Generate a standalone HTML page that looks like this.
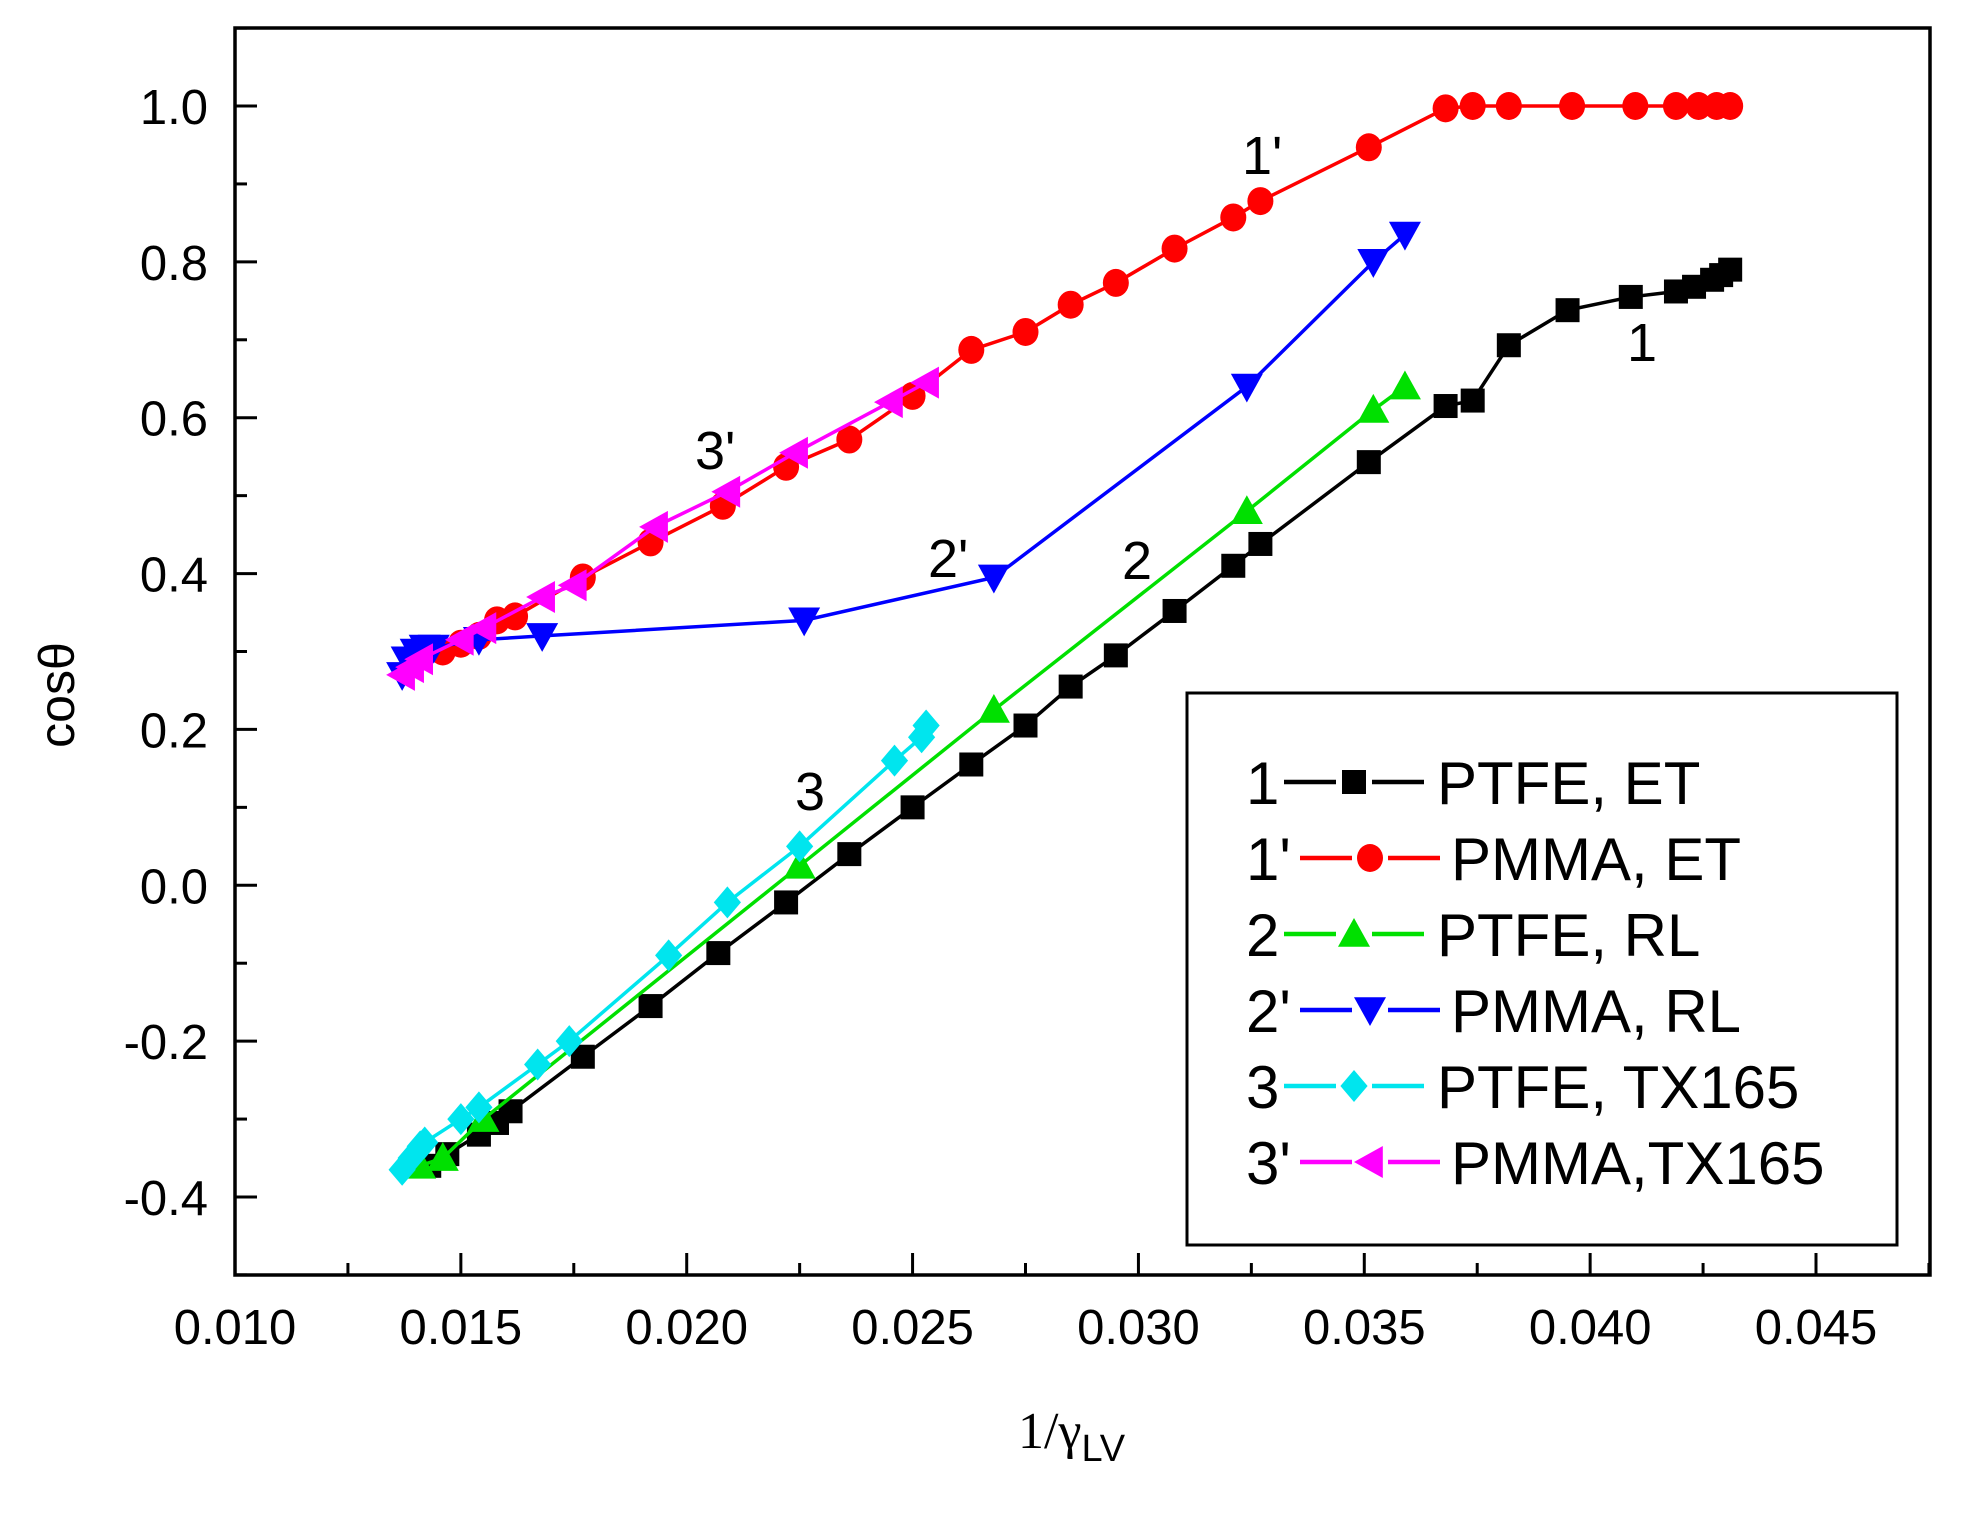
<!DOCTYPE html>
<html><head><meta charset="utf-8"><style>
html,body{margin:0;padding:0;background:#fff}
svg{display:block}
text{font-family:"Liberation Sans",Arial,sans-serif}
</style></head><body>
<svg id="chart" width="1970" height="1513" viewBox="0 0 1970 1513" xmlns="http://www.w3.org/2000/svg">
<g id="axes"></g>
<g id="series"></g>
<g id="labels"></g>
<g id="legend"></g>
<text transform="translate(74,695) rotate(-90)" text-anchor="middle" font-size="50">cosθ</text>
<text x="1018" y="1448" font-size="52" style="font-family:'Liberation Serif',serif">1/γ<tspan font-size="38" dy="13" style="font-family:'Liberation Sans',sans-serif">LV</tspan></text>
</svg>
<script>
const xTicks=[0.010,0.015,0.020,0.025,0.030,0.035,0.040,0.045];
const xTickLabels=["0.010","0.015","0.020","0.025","0.030","0.035","0.040","0.045"];
const yTicks=[-0.4,-0.2,0.0,0.2,0.4,0.6,0.8,1.0];
const yTickLabels=["-0.4","-0.2","0.0","0.2","0.4","0.6","0.8","1.0"];
const s1x=[0.0143,0.0147,0.0154,0.0158,0.0161,0.0177,0.0192,0.0207,0.0222,0.0236,0.0250,0.0263,0.0275,0.0285,0.0295,0.0308,0.0321,0.0327,0.0351,0.0368,0.0374,0.0382,0.0395,0.0409,0.0419,0.0423,0.0427,0.0429,0.0431];
const s1y=[-0.36,-0.345,-0.32,-0.305,-0.29,-0.22,-0.155,-0.087,-0.022,0.04,0.10,0.155,0.205,0.255,0.295,0.352,0.41,0.438,0.543,0.615,0.622,0.693,0.738,0.755,0.762,0.768,0.777,0.783,0.79];
const s1px=[0.0146,0.0150,0.0154,0.0158,0.0162,0.0177,0.0192,0.0208,0.0222,0.0236,0.0250,0.0263,0.0275,0.0285,0.0295,0.0308,0.0321,0.0327,0.0351,0.0368,0.0374,0.0382,0.0396,0.0410,0.0419,0.0424,0.0428,0.0431];
const s1py=[0.30,0.31,0.32,0.34,0.345,0.395,0.44,0.487,0.537,0.572,0.628,0.687,0.71,0.745,0.773,0.817,0.857,0.878,0.947,0.997,1.0,1.0,1.0,1.0,1.0,1.0,1.0,1.0];
const s2x=[0.0141,0.0146,0.0155,0.0225,0.0268,0.0324,0.0352,0.0359];
const s2y=[-0.36,-0.35,-0.30,0.025,0.225,0.48,0.61,0.64];
const s2px=[0.0137,0.0138,0.0140,0.0142,0.0144,0.0154,0.0168,0.0226,0.0268,0.0324,0.0352,0.0359];
const s2py=[0.27,0.29,0.30,0.305,0.305,0.315,0.32,0.34,0.395,0.64,0.80,0.835];
const s3x=[0.0137,0.0139,0.0141,0.0142,0.0150,0.0154,0.0167,0.0174,0.0196,0.0209,0.0225,0.0246,0.0252,0.0253];
const s3y=[-0.365,-0.35,-0.335,-0.33,-0.30,-0.285,-0.23,-0.20,-0.09,-0.022,0.05,0.16,0.19,0.205];
const s3px=[0.0137,0.0139,0.0141,0.0150,0.0155,0.0168,0.0175,0.0193,0.0209,0.0224,0.0245,0.0253];
const s3py=[0.27,0.28,0.29,0.315,0.33,0.37,0.385,0.46,0.505,0.555,0.62,0.645];

const NS="http://www.w3.org/2000/svg";
const L=235,R=1930,T=28,B=1275;
function xs(v){return 235+(v-0.010)*(1816-235)/0.035;}
function ys(v){return 106+(1.0-v)*(1197-106)/1.4;}
function mk(tag,attrs,parent){const e=document.createElementNS(NS,tag);for(const k in attrs)e.setAttribute(k,attrs[k]);parent.appendChild(e);return e;}

const ax=document.getElementById('axes');
const frame=mk('rect',{x:L,y:T,width:R-L,height:B-T,fill:'none',stroke:'#000','stroke-width':3.5},ax);


for(let i=0;i<xTicks.length;i++){
  const x=xs(xTicks[i]);
  const t=mk('line',{x1:x,y1:B,x2:x,y2:B-22,stroke:'#000','stroke-width':3},ax);
  
  
  const m=xs(xTicks[i]+0.0025);
  if(m<R){const mt=mk('line',{x1:m,y1:B,x2:m,y2:B-12,stroke:'#000','stroke-width':3},ax);
    
    }
  const lb=mk('text',{x:x,y:1344,'text-anchor':'middle','font-size':49},ax);
  lb.textContent=xTickLabels[i];
  
  
}
for(let i=0;i<yTicks.length;i++){
  const y=ys(yTicks[i]);
  const t=mk('line',{x1:L,y1:y,x2:L+22,y2:y,stroke:'#000','stroke-width':3},ax);
  
  
  [yTicks[i]+0.1,yTicks[i]-0.1].forEach(v=>{
    if(i===0||v>yTicks[i]){const yy=ys(v);if(yy>T&&yy<B){const mt=mk('line',{x1:L,y1:yy,x2:L+12,y2:yy,stroke:'#000','stroke-width':3},ax);
      
      }}
  });
  const lb=mk('text',{x:208,y:y+18,'text-anchor':'end','font-size':49},ax);
  lb.textContent=yTickLabels[i];
  
  
}

function marker(g,type,cx,cy,color,sc){
  sc=sc||1;let e;
  if(type==='square'){const h=12*sc;e=mk('rect',{x:cx-h,y:cy-h,width:2*h,height:2*h,fill:color},g);}
  else if(type==='circle'){e=mk('ellipse',{cx:cx,cy:cy,rx:13*sc,ry:14*sc,fill:color},g);}
  else if(type==='up'){const h=16*sc;e=mk('polygon',{points:`${cx},${cy-h} ${cx+h},${cy+h*0.8} ${cx-h},${cy+h*0.8}`,fill:color},g);}
  else if(type==='down'){const h=16*sc;e=mk('polygon',{points:`${cx-h},${cy-h*0.8} ${cx+h},${cy-h*0.8} ${cx},${cy+h}`,fill:color},g);}
  else if(type==='diamond'){const h=16*sc;e=mk('polygon',{points:`${cx},${cy-h} ${cx+h*0.85},${cy} ${cx},${cy+h} ${cx-h*0.85},${cy}`,fill:color},g);}
  else {const h=16*sc;e=mk('polygon',{points:`${cx-h},${cy} ${cx+h*0.8},${cy-h} ${cx+h*0.8},${cy+h}`,fill:color},g);}
  return e;
}
const sg=document.getElementById('series');
function drawSeries(xsArr,ysArr,color,type,name){
  const g=mk('g',{},sg);
  
  
  const pts=xsArr.map((v,i)=>xs(v)+','+ys(ysArr[i])).join(' ');
  const pl=mk('polyline',{points:pts,fill:'none',stroke:color,'stroke-width':3.5},g);
  
  
  for(let i=0;i<xsArr.length;i++){
    const m=marker(g,type,xs(xsArr[i]),ys(ysArr[i]),color);
    
    
  }
}
drawSeries(s1x,s1y,'#000','square','series-ptfe-et');
drawSeries(s1px,s1py,'#ff0000','circle','series-pmma-et');
drawSeries(s2px,s2py,'#0000ff','down','series-pmma-rl');
drawSeries(s2x,s2y,'#00e000','up','series-ptfe-rl');
drawSeries(s3x,s3y,'#00e5ee','diamond','series-ptfe-tx165');
drawSeries(s3px,s3py,'#ff00ff','left','series-pmma-tx165');

const lg=document.getElementById('labels');
[["1'",1242,174],["1",1627,361],["3'",695,469],["2'",928,577],["2",1122,579],["3",795,810]].forEach(d=>{
  const t=mk('text',{x:d[1],y:d[2],'font-size':54},lg);
  t.textContent=d[0];
  
  
});

const leg=document.getElementById('legend');
const box=mk('rect',{x:1187,y:693,width:710,height:552,fill:'#fff',stroke:'#000','stroke-width':3},leg);


const legNums=["1","1'","2","2'","3","3'"];
const legText=["PTFE, ET","PMMA, ET","PTFE, RL","PMMA, RL","PTFE, TX165","PMMA,TX165"];
const legColors=['#000','#ff0000','#00e000','#0000ff','#00e5ee','#ff00ff'];
const legTypes=['square','circle','up','down','diamond','left'];
for(let i=0;i<6;i++){
  const y=782+i*76;
  const g=mk('g',{},leg);
  
  
  const prime=legNums[i].length>1;
  const n=mk('text',{x:1246,y:y+22,'font-size':60},g);n.textContent=legNums[i];
  const x0=prime?1300:1284;
  const len=prime?140:140;
  mk('line',{x1:x0,y1:y,x2:x0+52,y2:y,stroke:legColors[i],'stroke-width':4.5},g);
  mk('line',{x1:x0+88,y1:y,x2:x0+len,y2:y,stroke:legColors[i],'stroke-width':4.5},g);
  marker(g,legTypes[i],x0+70,y,legColors[i],1);
  const t=mk('text',{x:prime?1451:1437,y:y+22,'font-size':60},g);t.textContent=legText[i];
}
</script>
</body></html>
